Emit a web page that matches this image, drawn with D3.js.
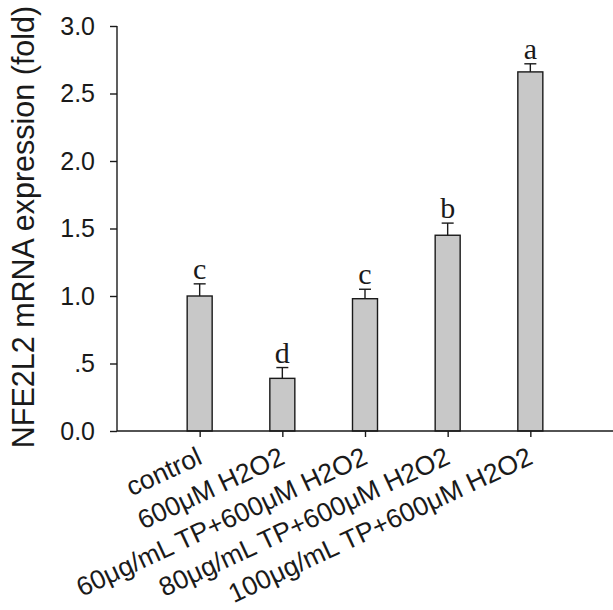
<!DOCTYPE html>
<html>
<head>
<meta charset="utf-8">
<script src="https://cdnjs.cloudflare.com/ajax/libs/d3/7.8.5/d3.min.js"></script>
<style>
  body { margin: 0; background: #fff; }
  svg { display: block; }
</style>
</head>
<body>
<div id="chart"></div>
<script>
// values
var groups = ["control", "600\u03BCM H2O2", "60\u03BCg/mL TP+600\u03BCM H2O2", "80\u03BCg/mL TP+600\u03BCM H2O2", "100\u03BCg/mL TP+600\u03BCM H2O2"];
var means = [1.00, 0.39, 0.98, 1.45, 2.66];
var errs = [0.09, 0.08, 0.07, 0.09, 0.06];
var letters = ["c", "d", "c", "b", "a"];
var yTicks = [0, 0.5, 1.0, 1.5, 2.0, 2.5, 3.0];
var yTickLabels = ["0.0", ".5", "1.0", "1.5", "2.0", "2.5", "3.0"];

var chart = {

  init: function(){
    this.svg = d3.select('#chart')
                 .append('svg')
                 .attr('width', 613)
                 .attr('height', 610);

    var x = d3.scaleLinear().domain([0, groups.length + 1]).range([117, 613]);
    var y = d3.scaleLinear().domain([0, 3]).range([431, 26]);
    var barW = 25;

    // bars
    this.svg.selectAll('.bar')
        .data(means)
        .enter().append('rect')
        .attr('class', 'bar')
        .attr('x', function(d, i){ return x(i + 1) - barW / 2; })
        .attr('y', function(d){ return y(d); })
        .attr('width', barW)
        .attr('height', function(d){ return y(0) - y(d); })
        .style('fill', '#c8c8c8')
        .style('stroke', '#1a1a1a')
        .style('stroke-width', 1.4);

    // error bars (upper only)
    var eb = this.svg.selectAll('.err')
        .data(means)
        .enter().append('g').attr('class', 'err')
        .style('stroke', '#1a1a1a')
        .style('stroke-width', 1.4);
    eb.append('line')
        .attr('x1', function(d, i){ return x(i + 1); })
        .attr('x2', function(d, i){ return x(i + 1); })
        .attr('y1', function(d){ return y(d); })
        .attr('y2', function(d, i){ return y(d + errs[i]); });
    eb.append('line')
        .attr('x1', function(d, i){ return x(i + 1) - 6; })
        .attr('x2', function(d, i){ return x(i + 1) + 6; })
        .attr('y1', function(d, i){ return y(d + errs[i]); })
        .attr('y2', function(d, i){ return y(d + errs[i]); });

    // significance letters
    this.svg.selectAll('.sig')
        .data(means)
        .enter().append('text')
        .attr('class', 'sig')
        .attr('x', function(d, i){ return x(i + 1); })
        .attr('y', function(d, i){ return y(d + errs[i]) - 5; })
        .attr('text-anchor', 'middle')
        .style('font-family', '"Liberation Serif", "Times New Roman", serif')
        .style('font-size', '30px')
        .style('fill', '#1a1a1a')
        .text(function(d, i){ return letters[i]; });

    // y axis
    var yAxis = d3.axisLeft(y)
        .tickValues(yTicks)
        .tickSize(7)
        .tickPadding(15)
        .tickFormat(function(d, i){ return yTickLabels[i]; });
    var gy = this.svg.append('g')
        .attr('transform', 'translate(117,0)')
        .call(yAxis);
    gy.select('.domain').attr('d', 'M0,' + y(3) + 'V' + y(0));

    // x axis
    var xAxis = d3.axisBottom(x)
        .tickValues(d3.range(1, groups.length + 1))
        .tickSize(6)
        .tickFormat('');
    var gx = this.svg.append('g')
        .attr('transform', 'translate(0,431)')
        .call(xAxis);
    gx.select('.domain').attr('d', 'M117,0H613');

    this.svg.selectAll('.domain, .tick line')
        .style('stroke', '#1a1a1a')
        .style('stroke-width', 1.4);
    gy.selectAll('.tick text')
        .style('font-family', '"Liberation Sans", Arial, sans-serif')
        .style('font-size', '25px')
        .style('fill', '#1a1a1a');

    // rotated category labels
    this.svg.selectAll('.cat')
        .data(groups)
        .enter().append('text')
        .attr('class', 'cat')
        .attr('text-anchor', 'end')
        .attr('transform', function(d, i){
          return 'translate(' + (x(i + 1) + 4) + ',463) rotate(-25)';
        })
        .style('font-family', '"Liberation Sans", Arial, sans-serif')
        .style('font-size', '26.5px')
        .style('fill', '#1a1a1a')
        .text(function(d){ return d; });

    // y axis title
    this.svg.append('text')
        .attr('transform', 'translate(34,227) rotate(-90)')
        .attr('text-anchor', 'middle')
        .style('font-family', '"Liberation Sans", Arial, sans-serif')
        .style('font-size', '30.5px')
        .style('fill', '#1a1a1a')
        .text('NFE2L2 mRNA expression (fold)');
  }

};

chart.init();
</script>
</body>
</html>
